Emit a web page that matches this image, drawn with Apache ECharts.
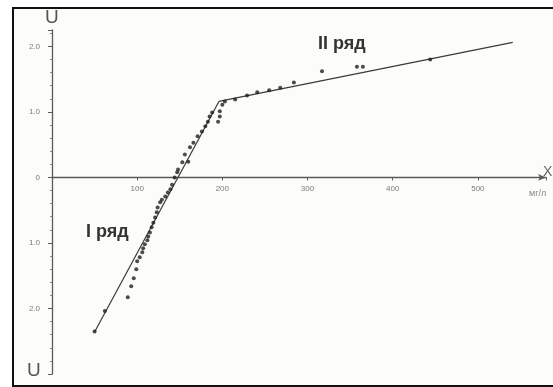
<!DOCTYPE html>
<html>
<head>
<meta charset="utf-8">
<script src="https://cdn.jsdelivr.net/npm/echarts@6/dist/echarts.min.js"></script>
<style>
  html, body { margin: 0; padding: 0; background: #ffffff; }
  #chart { width: 553px; height: 387px; }
</style>
</head>
<body>
<div id="chart"></div>
<script>
// measured points: concentration (X) and normal quantile (U)
var pointsX = [50, 62, 89, 93, 96, 99, 100, 103, 106, 107, 109, 112, 113, 115, 117, 119, 121, 123,
  124, 127, 129, 133, 136, 139, 141, 144, 147, 148, 153, 156, 160, 162, 166, 171, 176, 180, 183,
  185, 188, 195, 197, 197, 200, 203, 215, 229, 241, 255, 268, 284, 317, 358, 365, 444];
var pointsU = [-2.35, -2.04, -1.83, -1.66, -1.54, -1.40, -1.28, -1.22, -1.14, -1.08, -1.02, -0.96,
  -0.90, -0.84, -0.76, -0.69, -0.61, -0.53, -0.46, -0.38, -0.34, -0.29, -0.23, -0.18, -0.11, 0.00,
  0.08, 0.12, 0.23, 0.35, 0.24, 0.46, 0.53, 0.63, 0.70, 0.78, 0.85, 0.93, 0.99, 0.85, 0.93, 1.01,
  1.11, 1.16, 1.19, 1.25, 1.30, 1.33, 1.37, 1.45, 1.62, 1.69, 1.69, 1.80];

// fitted lines for the two populations
var lineIX = [50, 196];
var lineIU = [-2.36, 1.16];
var lineIIX = [196, 541];
var lineIIU = [1.16, 2.06];

var xTicks = [100, 200, 300, 400, 500];
var uTicks = [-2, -1, 0, 1, 2];

var chartDom = document.getElementById('chart');
var myChart = echarts.init(chartDom);

function pairs(xs, ys) {
  return xs.map(function (x, i) { return [x, ys[i]]; });
}

var axisColor = '#5a5a5a';
var labelColor = '#7a7a7a';

// grid geometry, used to lift the X axis up to U = 0
var gridTop = 30, gridBottom = 13, chartH = 387;
var uMin = -3, uMax = 2.25;
var plotH = chartH - gridTop - gridBottom;
var zeroLift = plotH * (0 - uMin) / (uMax - uMin);

var option = {
  backgroundColor: '#ffffff',
  animation: false,
  graphic: [
    {
      type: 'rect',
      shape: { x: 13, y: 8, width: 570, height: 378 },
      style: { fill: '#fcfcf8', stroke: '#111', lineWidth: 2 },
      z: -10
    },
    {
      type: 'text', left: 45, top: 8,
      style: { text: 'U', fontSize: 19, fill: '#555', fontFamily: 'Liberation Sans' }
    },
    {
      type: 'text', left: 27, top: 361,
      style: { text: 'U', fontSize: 19, fill: '#555', fontFamily: 'Liberation Sans' }
    },
    {
      type: 'text', left: 543, top: 165,
      style: { text: 'X', fontSize: 14, fill: '#666', fontFamily: 'Liberation Sans' }
    },
    {
      type: 'text', left: 529, top: 189,
      style: { text: 'мг/л', fontSize: 9, fill: '#888', fontFamily: 'Liberation Sans' }
    },
    {
      type: 'text', left: 86, top: 223,
      style: { text: 'I ряд', fontSize: 18, fontWeight: 'bold', fill: '#333', fontFamily: 'Liberation Sans' }
    },
    {
      type: 'text', left: 318, top: 35,
      style: { text: 'II ряд', fontSize: 18, fontWeight: 'bold', fill: '#333', fontFamily: 'Liberation Sans' }
    }
  ],
  grid: { left: 52, right: 7, top: gridTop, bottom: gridBottom },
  xAxis: {
    type: 'value',
    min: 0,
    max: 580,
    interval: 100,
    position: 'bottom',
    offset: -zeroLift,
    axisLine: {
      onZero: false,
      symbol: ['none', 'arrow'],
      symbolSize: [5, 8],
      lineStyle: { color: axisColor, width: 1.3 }
    },
    axisTick: { show: true, length: 3, lineStyle: { color: axisColor } },
    axisLabel: {
      color: labelColor,
      fontSize: 8,
      margin: 7,
      formatter: function (v) { return xTicks.indexOf(v) >= 0 ? String(v) : ''; }
    },
    splitLine: { show: false }
  },
  yAxis: {
    type: 'value',
    min: uMin,
    max: uMax,
    interval: 1,
    axisLine: {
      show: true,
      onZero: false,
      lineStyle: { color: axisColor, width: 1.3 }
    },
    axisTick: { show: true, length: 4, lineStyle: { color: axisColor } },
    minorTick: { show: true, splitNumber: 5, length: 2, lineStyle: { color: '#888' } },
    axisLabel: {
      color: labelColor,
      fontSize: 8,
      margin: 12,
      formatter: function (v) {
        if (uTicks.indexOf(v) < 0) return '';
        return v === 0 ? '0' : Math.abs(v).toFixed(1);
      }
    },
    splitLine: { show: false }
  },
  series: [
    {
      name: 'I ряд (линия)',
      type: 'line',
      data: pairs(lineIX, lineIU),
      showSymbol: false,
      lineStyle: { color: '#3a3a3a', width: 1.2 },
      z: 2
    },
    {
      name: 'II ряд (линия)',
      type: 'line',
      data: pairs(lineIIX, lineIIU),
      showSymbol: false,
      lineStyle: { color: '#3a3a3a', width: 1.2 },
      z: 2
    },
    {
      name: 'точки',
      type: 'scatter',
      data: pairs(pointsX, pointsU),
      symbolSize: 4,
      itemStyle: { color: '#1e1e1e' },
      z: 3
    }
  ]
};

option && myChart.setOption(option);
</script>
</body>
</html>
